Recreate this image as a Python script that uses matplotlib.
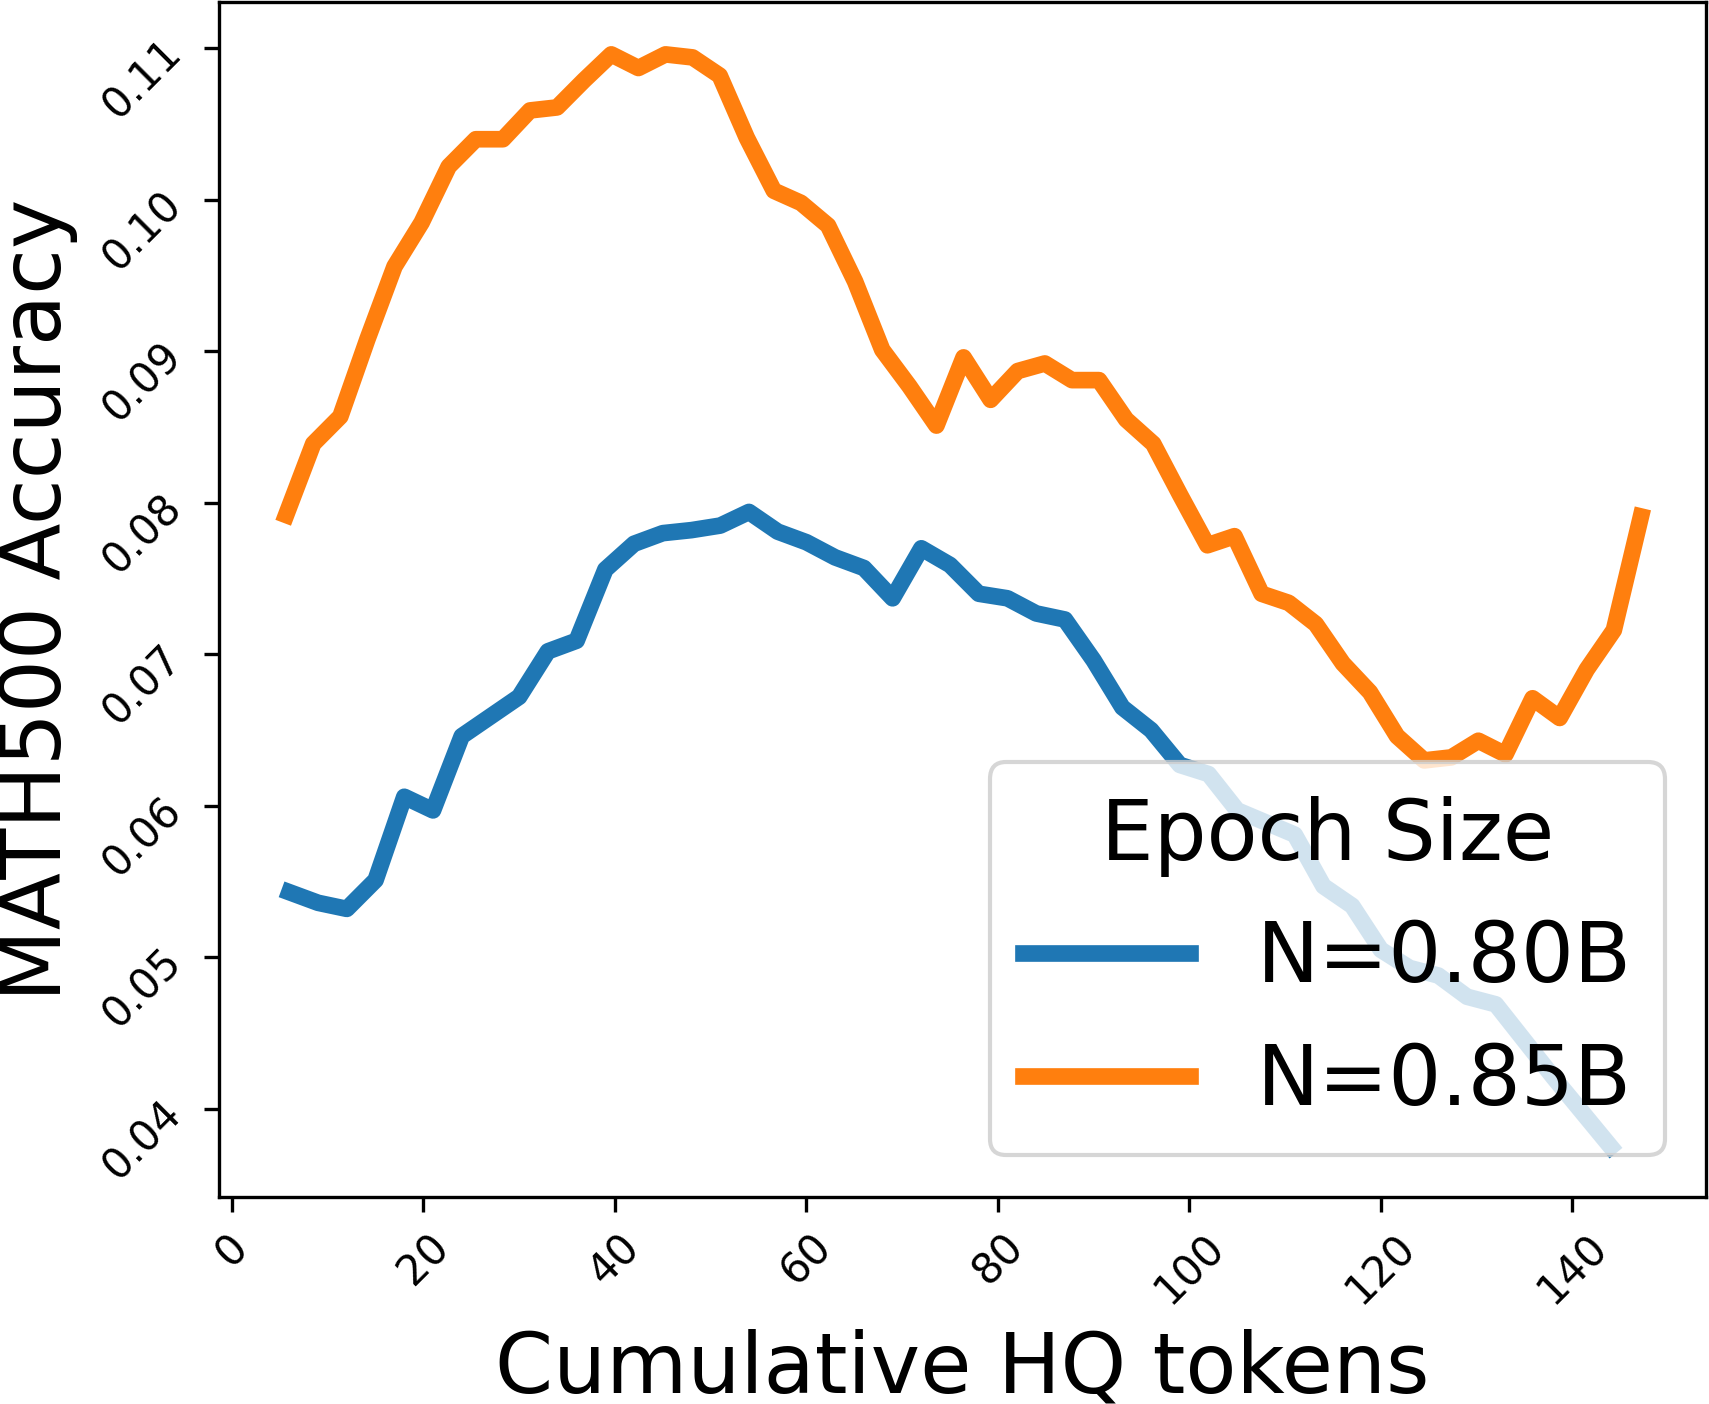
import matplotlib
matplotlib.use("Agg")
import matplotlib.pyplot as plt

# cumulative HQ tokens for each run
x_080 = [6, 9, 12, 15, 18, 21, 24, 27, 30, 33, 36, 39, 42, 45, 48, 51,
         54, 57, 60, 63, 66, 69, 72, 75, 78, 81, 84, 87, 90, 93, 96, 99,
         102, 105, 108, 111, 114, 117, 120, 123, 126, 129, 132, 135, 138,
         141, 144]
x_085 = [5.66, 8.49, 11.32, 14.15, 16.98, 19.81, 22.64, 25.47, 28.30, 31.13,
         33.96, 36.79, 39.62, 42.45, 45.28, 48.11, 50.94, 53.77, 56.60, 59.43,
         62.26, 65.09, 67.92, 70.75, 73.58, 76.41, 79.24, 82.07, 84.90, 87.73,
         90.56, 93.39, 96.22, 99.05, 101.88, 104.71, 107.54, 110.37, 113.20,
         116.03, 118.86, 121.69, 124.52, 127.35, 130.18, 133.01, 135.84,
         138.67, 141.50, 144.33, 147.16]

# MATH500 accuracy
acc_080 = [0.0543, 0.0536, 0.0532, 0.0551, 0.0606, 0.0597, 0.0646, 0.0659,
           0.0672, 0.0702, 0.0709, 0.0756, 0.0773, 0.0780, 0.0782, 0.0785,
           0.0794, 0.0781, 0.0774, 0.0764, 0.0757, 0.0737, 0.0770, 0.0759,
           0.0740, 0.0737, 0.0727, 0.0723, 0.0696, 0.0665, 0.0650, 0.0627,
           0.0621, 0.0597, 0.0589, 0.0581, 0.0547, 0.0534, 0.0505, 0.0493,
           0.0488, 0.0474, 0.0469, 0.0445, 0.0421, 0.0398, 0.0375]
acc_085 = [0.0792, 0.0839, 0.0857, 0.0908, 0.0956, 0.0985, 0.1022, 0.1040,
           0.1040, 0.1059, 0.1061, 0.1079, 0.1096, 0.1087, 0.1096, 0.1094,
           0.1082, 0.1041, 0.1006, 0.0998, 0.0983, 0.0946, 0.0901, 0.0877,
           0.0851, 0.0896, 0.0868, 0.0887, 0.0892, 0.0881, 0.0881, 0.0855,
           0.0839, 0.0805, 0.0772, 0.0778, 0.0740, 0.0734, 0.0720, 0.0694,
           0.0675, 0.0646, 0.0630, 0.0632, 0.0643, 0.0634, 0.0671, 0.0658,
           0.0690, 0.0716, 0.0791]

labels = ["N=0.80B", "N=0.85B"]

fig, ax = plt.subplots(figsize=(1709 / 300, 1404 / 300), dpi=300)
fig.subplots_adjust(left=0.1281, right=0.9985, top=0.9986, bottom=0.1474)

ax.plot(x_080, acc_080, color="tab:blue", linewidth=4, label=labels[0])
ax.plot(x_085, acc_085, color="tab:orange", linewidth=4, label=labels[1])

ax.set_xlim(-1.36, 154.0)
ax.set_ylim(0.03418, 0.11306)

ax.set_xlabel("Cumulative HQ tokens", fontsize=20)
ax.set_ylabel("MATH500 Accuracy", fontsize=20)
ax.tick_params(axis="both", labelsize=10, labelrotation=45)

ax.legend(title="Epoch Size", fontsize=20, title_fontsize=20, loc="lower right")

fig.savefig("out.png", dpi=300)
